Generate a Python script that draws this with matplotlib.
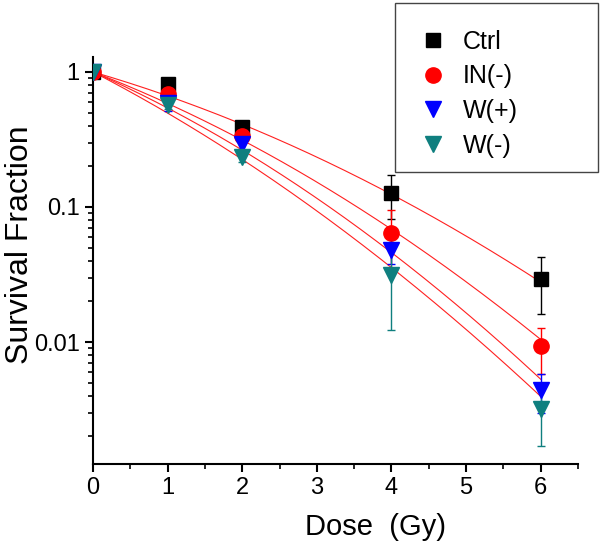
import numpy as np
import matplotlib
matplotlib.use('Agg')
import matplotlib.pyplot as plt
from matplotlib.lines import Line2D
from matplotlib.patches import Rectangle
from matplotlib.ticker import LogLocator, FixedLocator, FixedFormatter, MultipleLocator

plt.rcParams['font.family'] = ['Liberation Sans', 'DejaVu Sans']

dose = [0, 1, 2, 4, 6]
groups = ['Ctrl', 'IN(-)', 'W(+)', 'W(-)']

ctrl_sf = [1.0, 0.815, 0.394, 0.127, 0.0295]
ctrl_err = [0.03, 0.03, 0.03, 0.046, 0.0134]
in_sf = [1.0, 0.687, 0.336, 0.0645, 0.0093]
in_err = [0.03, 0.04, 0.03, 0.030, 0.0035]
wp_sf = [1.0, 0.586, 0.293, 0.048, 0.0044]
wp_err = [0.03, 0.07, 0.04, 0.010, 0.0014]
wm_sf = [1.0, 0.570, 0.236, 0.0313, 0.0032]
wm_err = [0.03, 0.04, 0.02, 0.019, 0.0015]

# linear-quadratic fit parameters (alpha, beta)
fit_alpha = [0.371, 0.492, 0.563, 0.658]
fit_beta = [0.0377, 0.0447, 0.0517, 0.044]

colors = ['black', '#ff0000', '#0000ff', '#0f7f7f']
markers = ['s', 'o', 'v', 'v']
sizes = [10, 11, 12, 12]

fig = plt.figure(figsize=(6.01, 5.48), dpi=100)
ax = fig.add_axes([93 / 601, 1 - 464 / 548, (578 - 93) / 601, (464 - 57) / 548])

d = np.linspace(0, 6, 200)
for a, b in zip(fit_alpha, fit_beta):
    ax.plot(d, np.exp(-a * d - b * d ** 2), color='#ff2020', lw=0.8, zorder=2)

series = [(ctrl_sf, ctrl_err), (in_sf, in_err), (wp_sf, wp_err), (wm_sf, wm_err)]
for (sf, err), c, m, s in zip(series, colors, markers, sizes):
    ax.errorbar(dose, sf, yerr=err, fmt=m, color=c, ms=s, mec=c, elinewidth=1,
                capsize=3, capthick=1, zorder=3)

ax.set_yscale('log')
ax.set_xlim(0, 6.5)
ax.set_ylim(0.00125, 1.29)

ax.spines['top'].set_visible(False)
ax.spines['right'].set_visible(False)
ax.spines['left'].set_linewidth(1.5)
ax.spines['bottom'].set_linewidth(1.5)

ax.xaxis.set_major_locator(MultipleLocator(1))
ax.xaxis.set_minor_locator(MultipleLocator(0.5))
ax.yaxis.set_major_locator(FixedLocator([0.01, 0.1, 1]))
ax.yaxis.set_major_formatter(FixedFormatter(['0.01', '0.1', '1']))
ax.yaxis.set_minor_locator(LogLocator(base=10, subs=np.arange(2, 10)))
ax.yaxis.set_minor_formatter(plt.NullFormatter())

ax.tick_params(which='major', direction='out', length=6, width=1.5, labelsize=17)
ax.tick_params(which='minor', direction='out', length=3.5, width=1.2)

ax.set_xlabel('Dose  (Gy)', fontsize=21)
ax.xaxis.set_label_coords(0.583, -0.12)
ax.set_ylabel('Survival Fraction', fontsize=23)
ax.yaxis.set_label_coords(-0.12, 0.54)

handles = [Line2D([], [], ls='none', marker=m, color=c, ms=s, mec=c)
           for c, m, s in zip(colors, markers, sizes)]
fig.legend(handles, groups, loc='upper left', bbox_to_anchor=(395 / 601, 1 - 5 / 548),
           fontsize=18, frameon=False, borderpad=1.0, borderaxespad=0,
           handlelength=1.0, handletextpad=0.7, labelspacing=0.42)
fig.patches.append(Rectangle((395 / 601, 1 - 172 / 548), 203 / 601, 169 / 548,
                             transform=fig.transFigure, fill=False,
                             ec='#444444', lw=1.0))

fig.savefig('out.png', dpi=100)
